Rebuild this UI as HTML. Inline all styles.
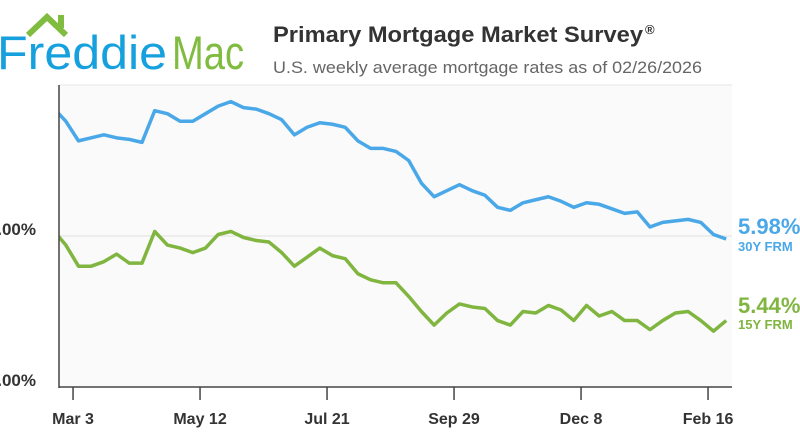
<!DOCTYPE html>
<html><head><meta charset="utf-8"><style>
body{margin:0;background:#fff;width:800px;height:445px;overflow:hidden;font-family:"Liberation Sans",sans-serif}
svg{display:block}
</style></head><body>
<svg width="800" height="445">
<g>
<polyline points="28,35 47,17 66,35" fill="none" stroke="#80bc3f" stroke-width="6"/>
<rect x="58" y="15" width="6" height="13" fill="#80bc3f"/>
<text x="-3" y="69" font-size="47" fill="#16a1de" textLength="170" lengthAdjust="spacingAndGlyphs">Freddie</text>
<text x="172" y="69" font-size="47" fill="#80bc3f" textLength="72" lengthAdjust="spacingAndGlyphs">Mac</text>
</g>
<text x="273" y="42" font-size="22" font-weight="bold" fill="#333" textLength="370" lengthAdjust="spacingAndGlyphs">Primary Mortgage Market Survey</text>
<text x="645" y="34" font-size="13" font-weight="bold" fill="#333">®</text>
<text x="273" y="73" font-size="17" fill="#666" textLength="429" lengthAdjust="spacingAndGlyphs">U.S. weekly average mortgage rates as of 02/26/2026</text>
<rect x="59" y="85" width="673" height="302" fill="#fafafa"/>
<line x1="59" y1="85" x2="732" y2="85" stroke="#e6e6e6"/>
<g id="grid"></g>
<g id="series"></g>
<line x1="59" y1="85" x2="59" y2="388" stroke="#444" stroke-width="1.5"/>
<line x1="59" y1="387" x2="732" y2="387" stroke="#444" stroke-width="1.5"/>
<g id="xticks"></g>
<text x="738" y="234" font-size="22" font-weight="bold" fill="#4aa8e8">5.98%</text>
<text x="738" y="251" font-size="13" font-weight="bold" fill="#4aa8e8">30Y FRM</text>
<text x="738" y="313" font-size="22" font-weight="bold" fill="#80b540">5.44%</text>
<text x="738" y="329" font-size="13" font-weight="bold" fill="#80b540">15Y FRM</text>
</svg>
<script>
const rate30 = [6.85,6.76,6.63,6.65,6.67,6.65,6.64,6.62,6.83,6.81,6.76,6.76,6.81,6.86,6.89,6.85,6.84,6.81,6.77,6.67,6.72,6.75,6.74,6.72,6.63,6.58,6.58,6.56,6.50,6.35,6.26,6.30,6.34,6.30,6.27,6.19,6.17,6.22,6.24,6.26,6.23,6.19,6.22,6.21,6.18,6.15,6.16,6.06,6.09,6.10,6.11,6.09,6.01,5.98];
const rate15 = [6.04,5.94,5.80,5.80,5.83,5.88,5.82,5.82,6.03,5.94,5.92,5.89,5.92,6.01,6.03,5.99,5.97,5.96,5.89,5.80,5.86,5.92,5.87,5.85,5.75,5.71,5.69,5.69,5.60,5.50,5.41,5.49,5.55,5.53,5.52,5.44,5.41,5.50,5.49,5.54,5.51,5.44,5.54,5.47,5.50,5.44,5.44,5.38,5.44,5.49,5.50,5.44,5.37,5.44];
const yTicks = [5, 6];
const yTickLabels = ["5.00%", "6.00%"];
const xTickLabels = ["Mar 3","May 12","Jul 21","Sep 29","Dec 8","Feb 16"];
const xTickWeek = [1.57,11.57,21.57,31.57,41.57,51.57];
const NS="http://www.w3.org/2000/svg";
const x = w => 53.1 + w*12.7;
const y = v => 387 - (v-5)*151;
function mk(t,a,p){const e=document.createElementNS(NS,t);for(const k in a)e.setAttribute(k,a[k]);p.appendChild(e);return e;}
const svg=document.querySelector('svg');
const grid=document.getElementById('grid');
yTicks.forEach((v,i)=>{
  if(v>5){const l=mk('line',{x1:59,x2:732,y1:y(v),y2:y(v),stroke:'#e0e0e0'},grid);
  
  }
  const t=mk('text',{x:36,y:y(v)-1,'font-size':17,'font-weight':'bold',fill:'#333','text-anchor':'end'},grid);
  t.textContent=yTickLabels[i];
  
  
});
const defs=mk('defs',{},svg);
const cp=mk('clipPath',{id:'clip'},defs);
mk('rect',{x:59,y:80,width:680,height:310},cp);
const sg=document.getElementById('series');
sg.setAttribute('clip-path','url(#clip)');
function line(data,color,name){
  const p=mk('polyline',{points:data.map((v,i)=>x(i)+','+y(v)).join(' '),fill:'none',stroke:color,'stroke-width':3.5,'stroke-linejoin':'round'},sg);
  
  
}
line(rate30,'#4aa8e8','line-30y-frm');
line(rate15,'#80b540','line-15y-frm');
const xt=document.getElementById('xticks');
xTickLabels.forEach((lab,i)=>{
  const xx=x(xTickWeek[i]);
  const l=mk('line',{x1:xx,x2:xx,y1:387,y2:400,stroke:'#444','stroke-width':1.5},xt);
  
  
  const t=mk('text',{x:xx,y:424,'font-size':16,'font-weight':'bold',fill:'#333','text-anchor':'middle'},xt);
  t.textContent=lab;
  
  
});
</script>
</body></html>
